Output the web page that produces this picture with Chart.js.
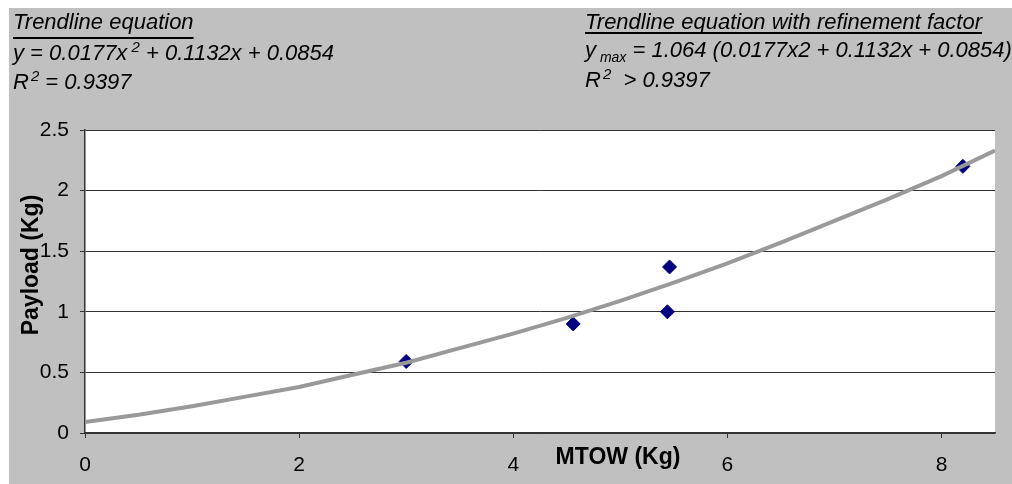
<!DOCTYPE html>
<html>
<head>
<meta charset="utf-8">
<script src="https://cdn.jsdelivr.net/npm/chart.js@4.4.1/dist/chart.umd.min.js"></script>
<style>
  html, body { margin: 0; padding: 0; background: #fff; }
  #wrap { width: 1012px; height: 484px; position: relative; }
</style>
</head>
<body>
<div id="wrap"><canvas id="payloadChart"></canvas></div>
<script>
// ─── DATA ────────────────────────────────────────────────────────────────
var mtow    = [3.0, 4.56, 5.44, 5.46, 8.2];     // MTOW (Kg)
var payload = [0.59, 0.90, 1.00, 1.37, 2.20];   // Payload (Kg)

// trendline
var trendX = [0, 0.5, 1, 1.5, 2, 2.5, 3, 3.5, 4, 4.5, 5, 5.5, 6, 6.5, 7, 7.5, 8, 8.5];
var trendY = [0.09, 0.15, 0.22, 0.30, 0.38, 0.48, 0.58, 0.70, 0.82, 0.95, 1.09, 1.24, 1.40, 1.57, 1.75, 1.93, 2.12, 2.33];

var xTicks = [0, 2, 4, 6, 8];
var yTicks = [0, 0.5, 1, 1.5, 2, 2.5];

var FONT = '"Liberation Sans", Arial, sans-serif';
var GREY_BG = '#c0c0c0';

function pts(xs, ys) { return xs.map(function(x, i) { return { x: x, y: ys[i] }; }); }

// ── background: white frame, grey chart box, white plot area ─────────────
var bgPlugin = {
  id: 'bg',
  beforeDraw: function(chart) {
    var c = chart.ctx, a = chart.chartArea;
    c.save();
    c.fillStyle = '#fff';
    c.fillRect(0, 0, chart.width, chart.height);
    c.fillStyle = GREY_BG;
    c.fillRect(9, 8, chart.width - 9, chart.height - 8);
    c.fillStyle = '#fff';
    c.fillRect(a.left, a.top, a.right - a.left, a.bottom - a.top);
    c.restore();
  }
};

// ── titles and the two equation blocks ───────────────────────────────────
function txt(c, s, x, y, font) {
  c.font = font;
  c.fillText(s, x, y);
  return x + c.measureText(s).width;
}

var textPlugin = {
  id: 'notes',
  afterDraw: function(chart) {
    var c = chart.ctx;
    var it = 'italic 22px ' + FONT, itSmall = 'italic 15px ' + FONT;
    c.save();
    c.fillStyle = '#000';
    c.textBaseline = 'alphabetic';
    c.textAlign = 'left';

    // left block
    var x = txt(c, 'Trendline equation', 13, 29, it);
    c.fillRect(13, 37, x - 13, 2);
    x = txt(c, 'y = 0.0177x', 13, 60, it);
    x = txt(c, ' 2', x, 52, itSmall);
    txt(c, ' + 0.1132x + 0.0854', x, 60, it);
    x = txt(c, 'R', 13, 89, it);
    x = txt(c, '2', x + 2, 81, itSmall);
    txt(c, ' = 0.9397', x, 89, it);

    // right block
    x = txt(c, 'Trendline equation with refinement factor', 585, 29, it);
    c.fillRect(585, 32, x - 585, 2);
    x = txt(c, 'y', 585, 57, it);
    x = txt(c, ' max', x, 62, 'italic 14px ' + FONT);
    txt(c, ' = 1.064 (0.0177x2 + 0.1132x + 0.0854)', x, 57, it);
    x = txt(c, 'R', 585, 87, it);
    x = txt(c, '2', x + 2, 79, itSmall);
    txt(c, '  > 0.9397', x, 87, it);

    // axis titles
    c.font = 'bold 23px ' + FONT;
    c.textAlign = 'center';
    c.textBaseline = 'middle';
    c.fillText('MTOW (Kg)', 618, 458);
    c.translate(32, 265);
    c.rotate(-Math.PI / 2);
    c.fillText('Payload (Kg)', 0, 0);
    c.restore();
  }
};

new Chart(document.getElementById('payloadChart'), {
  type: 'scatter',
  data: {
    datasets: [
      { label: 'Trendline', data: pts(trendX, trendY), showLine: true, borderColor: '#999999', borderWidth: 4, pointRadius: 0, tension: 0, fill: false },
      { label: 'Payload', data: pts(mtow, payload), pointStyle: 'rectRot', pointRadius: 7, backgroundColor: '#000080', borderColor: '#000080', borderWidth: 1 }
    ]
  },
  options: {
    responsive: true,
    maintainAspectRatio: false,
    animation: false,
    layout: { padding: { top: 130, right: 17, left: 0, bottom: 0 } },
    plugins: { legend: { display: false }, tooltip: { enabled: false } },
    scales: {
      x: {
        type: 'linear', min: 0, max: 8.5,
        afterFit: function(s) { s.height = 51; },
        afterBuildTicks: function(s) { s.ticks = xTicks.map(function(v) { return { value: v }; }); },
        grid: { drawOnChartArea: false, tickLength: 5, color: '#333', lineWidth: 1 },
        border: { display: true, color: '#333', width: 1.5 },
        ticks: { color: '#000', font: { family: FONT, size: 21 }, padding: 15, maxRotation: 0,
                 callback: function(v) { return String(v); } }
      },
      y: {
        type: 'linear', min: 0, max: 2.5,
        afterFit: function(s) { s.width = 85; },
        afterBuildTicks: function(s) { s.ticks = yTicks.map(function(v) { return { value: v }; }); },
        grid: { color: '#333', lineWidth: 1, tickLength: 5 },
        border: { display: true, color: '#333', width: 1.5 },
        ticks: { color: '#000', font: { family: FONT, size: 21 }, padding: 11,
                 callback: function(v) { return String(v); } }
      }
    }
  },
  plugins: [bgPlugin, textPlugin]
});
</script>
</body>
</html>
